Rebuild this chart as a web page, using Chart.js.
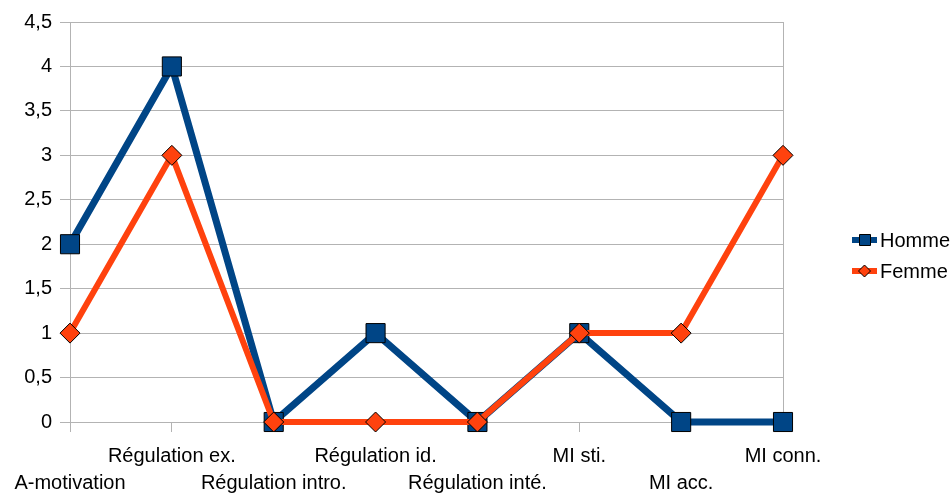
<!DOCTYPE html>
<html><head><meta charset="utf-8">
<script src="https://cdn.jsdelivr.net/npm/chart.js@4/dist/chart.umd.min.js"></script>
<style>html,body{margin:0;padding:0;background:#fff}#wrap{width:951px;height:495px}</style>
</head><body><div id="wrap"><canvas id="c" width="951" height="495"></canvas></div>
<script>
const categories = ['A-motivation','Régulation ex.','Régulation intro.','Régulation id.','Régulation inté.','MI sti.','MI acc.','MI conn.'];
const homme = [2,4,0,1,0,1,0,0];
const femme = [1,3,0,0,0,1,1,3];
const seriesNames = ['Homme','Femme'];
const colors = ['#004586','#ff420e'];
const FONT = 'Liberation Sans, Arial, sans-serif';

const legendPlugin = {
  id:'customLegend',
  afterDraw(chart){
    const ctx = chart.ctx;
    const items = [{y:240, i:0, style:'rect'},{y:271, i:1, style:'diamond'}];
    ctx.save();
    items.forEach(it=>{
      const ds = chart.data.datasets[it.i];
      ctx.fillStyle = ds.borderColor;
      ctx.fillRect(852, it.y-3, 25, 6);
      ctx.strokeStyle = '#000'; ctx.lineWidth = 1;
      ctx.fillStyle = ds.borderColor;
      ctx.beginPath();
      if(it.style==='rect'){ ctx.rect(859.5, it.y-5.5, 11, 11); }
      else { ctx.moveTo(864.5,it.y-6); ctx.lineTo(870.5,it.y); ctx.lineTo(864.5,it.y+6); ctx.lineTo(858.5,it.y); ctx.closePath(); }
      ctx.fill(); ctx.stroke();
      ctx.fillStyle = '#000';
      ctx.font = '20px ' + FONT;
      ctx.textBaseline = 'middle';
      ctx.fillText(ds.label, 880, it.y+1);
    });
    ctx.restore();
  }
};

new Chart(document.getElementById('c'), {
  type:'line',
  data:{
    labels: categories,
    datasets:[
      {label:seriesNames[0], data:homme, order:1, clip:false, borderColor:colors[0], backgroundColor:colors[0], borderWidth:7, pointStyle:'rect', pointRadius:13.5, pointHoverRadius:13.5, pointBorderColor:'#000', pointBorderWidth:1, tension:0},
      {label:seriesNames[1], data:femme, order:0, clip:false, borderColor:colors[1], backgroundColor:colors[1], borderWidth:6, pointStyle:'rectRot', pointRadius:10, pointHoverRadius:10, pointBorderColor:'#000', pointBorderWidth:1, tension:0}
    ]
  },
  options:{
    responsive:false, animation:false,
    layout:{padding:{left:0,right:168,top:22,bottom:0}},
    plugins:{legend:{display:false}, tooltip:{enabled:false}},
    scales:{
      x:{
        offset:false,
        grid:{color:(c)=> c.index===categories.length-1 ? '#b3b3b3' : 'rgba(0,0,0,0)', tickColor:'#b3b3b3', tickLength:10, drawTicks:true},
        border:{color:'#b3b3b3'},
        ticks:{
          color:'#000', font:{family:FONT, size:20, lineHeight:1.35}, padding:11, maxRotation:0, autoSkip:false,
          callback:function(v,i){ const l=this.getLabelForValue(v); return i%2===0 ? ['', l] : [l, '']; }
        },
        afterFit:(s)=>{ s.height = 73; }
      },
      y:{
        min:0, max:4.5,
        grid:{color:'#b3b3b3', tickLength:10},
        border:{color:'#b3b3b3'},
        ticks:{stepSize:0.5, color:'#000', font:{family:FONT, size:20}, padding:8,
          callback:(v)=> String(v).replace('.',',')},
        afterFit:(s)=>{ s.width = 70; }
      }
    }
  },
  plugins:[legendPlugin]
});
</script></body></html>
